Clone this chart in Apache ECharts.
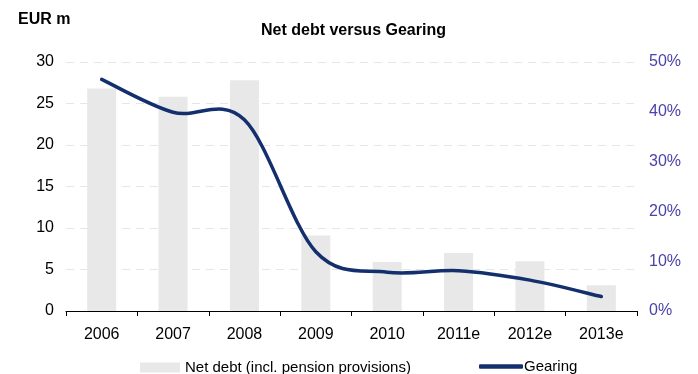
<!DOCTYPE html>
<html>
<head>
<meta charset="utf-8">
<script src="https://cdn.jsdelivr.net/npm/echarts@6/dist/echarts.min.js"></script>
<style>
  html, body { margin: 0; padding: 0; background: #fff; }
  #chart { width: 698px; height: 374px; }
</style>
</head>
<body>
<div id="chart"></div>
<script>
const years = ["2006", "2007", "2008", "2009", "2010", "2011e", "2012e", "2013e"];
const netDebt = [26.8, 25.8, 27.8, 9.1, 5.9, 7.0, 6.0, 3.1];
const gearing = [46.5, 39.9, 38.4, 11.9, 7.8, 8.1, 6.2, 2.9];
const leftTicks = [0, 5, 10, 15, 20, 25, 30];
const rightTicks = [0, 10, 20, 30, 40, 50];

const font = "'Liberation Sans', Arial, sans-serif";
const lineColor = "#142f6e";
const chart = echarts.init(document.getElementById("chart"));

// smoothed gearing line (Catmull-Rom style, like the spreadsheet original)
function renderGearing(params, api) {
  if (params.dataIndex !== 0) return null;
  const pts = gearing.map((v, i) => api.coord([i, v]));
  const f = 1 / 6;
  let d = "M" + pts[0][0] + "," + pts[0][1];
  for (let i = 0; i < pts.length - 1; i++) {
    const p0 = pts[Math.max(i - 1, 0)];
    const p1 = pts[i];
    const p2 = pts[i + 1];
    const p3 = pts[Math.min(i + 2, pts.length - 1)];
    const c1x = p1[0] + (p2[0] - p0[0]) * f;
    const c1y = p1[1] + (p2[1] - p0[1]) * f;
    const c2x = p2[0] - (p3[0] - p1[0]) * f;
    const c2y = p2[1] - (p3[1] - p1[1]) * f;
    d += " C" + c1x + "," + c1y + " " + c2x + "," + c2y + " " + p2[0] + "," + p2[1];
  }
  return {
    type: "path",
    shape: { pathData: d },
    style: { fill: "none", stroke: lineColor, lineWidth: 3.5, lineCap: "round", lineJoin: "round" }
  };
}

const option = {
  animation: false,
  textStyle: { fontFamily: font },
  title: [
    {
      text: "Net debt versus Gearing",
      left: 256,
      top: 18,
      textStyle: { fontSize: 16, fontWeight: "bold", color: "#000", fontFamily: font }
    },
    {
      text: "EUR m",
      left: 13,
      top: 7,
      textStyle: { fontSize: 16, fontWeight: "bold", color: "#000", fontFamily: font }
    }
  ],
  grid: { left: 66, right: 61, top: 62, bottom: 63 },
  legend: [
    {
      left: 135,
      top: 355,
      itemWidth: 40,
      itemHeight: 10,
      itemGap: 4,
      selectedMode: false,
      data: [{ name: "Net debt (incl. pension provisions)", icon: "rect" }],
      textStyle: { fontSize: 15, color: "#000" }
    },
    {
      left: 474,
      top: 354,
      itemWidth: 44,
      itemHeight: 4.5,
      selectedMode: false,
      data: [{ name: "Gearing", icon: "roundRect" }],
      textStyle: { fontSize: 15, color: "#000", padding: [0, 0, 0, -4] }
    }
  ],
  xAxis: {
    type: "category",
    data: years,
    axisLine: { lineStyle: { color: "#000", width: 1 } },
    axisTick: { show: true, interval: 0, alignWithLabel: false, length: 5, lineStyle: { color: "#000" } },
    axisLabel: { fontSize: 16, color: "#000", margin: 16 },
    splitLine: { show: false }
  },
  yAxis: [
    {
      type: "value",
      min: 0,
      max: 30,
      interval: 5,
      axisLine: { show: false },
      axisTick: { show: false },
      axisLabel: {
        fontSize: 16,
        color: "#000",
        margin: 12,
        formatter: v => leftTicks.includes(v) ? String(v) : ""
      },
      splitLine: { show: true, lineStyle: { color: "#e6e6e6", type: [8, 6], width: 1 } }
    },
    {
      type: "value",
      min: 0,
      max: 50,
      interval: 10,
      position: "right",
      axisLine: { show: false },
      axisTick: { show: false },
      axisLabel: {
        fontSize: 16,
        color: "#4b43a8",
        margin: 12,
        formatter: v => rightTicks.includes(v) ? v + "%" : ""
      },
      splitLine: { show: false }
    }
  ],
  series: [
    {
      name: "Net debt (incl. pension provisions)",
      type: "bar",
      data: netDebt,
      barWidth: 29,
      itemStyle: { color: "#e8e8e8" }
    },
    {
      name: "Gearing",
      type: "custom",
      yAxisIndex: 1,
      data: gearing.map((v, i) => [i, v]),
      encode: { x: 0, y: 1 },
      renderItem: renderGearing,
      itemStyle: { color: lineColor },
      z: 3
    }
  ]
};

chart.setOption(option);
</script>
</body>
</html>
